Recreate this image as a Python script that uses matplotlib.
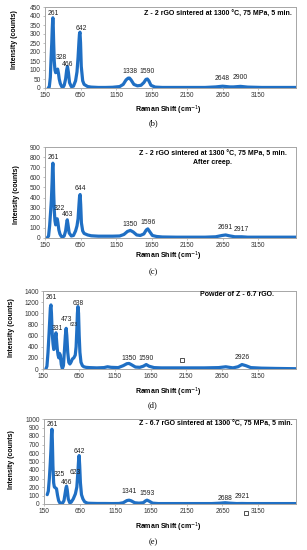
import matplotlib
matplotlib.use('Agg')
import matplotlib.pyplot as plt

plt.rcParams['font.family'] = ['Liberation Sans', 'DejaVu Sans']

BLUE = '#1f6fc4'
GREY = '#a6a6a6'
W, H = 307, 550

# ---- panel (b): Z - 2 rGO sintered
b_shift = [195, 210, 225, 235, 245, 252, 258, 261, 265, 272, 280, 290, 300, 310, 320, 328, 340,
           350, 365, 385, 405, 420, 440, 455, 466, 478, 495, 520, 550, 580, 600, 615, 628, 635,
           642, 650, 660, 680, 700, 750, 800, 900, 1000, 1100, 1200, 1250, 1290, 1320, 1338,
           1360, 1400, 1450, 1500, 1540, 1570, 1590, 1610, 1640, 1700, 1800, 2000, 2200, 2400,
           2550, 2648, 2750, 2800, 2900, 3000, 3200, 3400, 3680]
b_counts = [0, 5, 60, 160, 250, 330, 380, 390, 360, 250, 150, 100, 85, 90, 100, 105, 80,
            50, 25, 8, 5, 15, 50, 100, 120, 90, 30, 8, 10, 40, 90, 170, 260, 300,
            310, 250, 120, 40, 20, 8, 5, 3, 3, 4, 8, 20, 45, 55, 55,
            45, 20, 12, 15, 30, 48, 50, 40, 15, 5, 3, 3, 3, 3,
            6, 10, 6, 6, 9, 5, 3, 3, 3]
b_lab = ['261', '328', '466', '642', '1338', '1590', '2648', '2900']
b_lab_x = [261, 375, 466, 660, 1338, 1590, 2648, 2900]
b_lab_y = [412, 172, 130, 333, 92, 92, 52, 60]

# ---- panel (c): after creep
c_shift = [180, 200, 215, 230, 240, 250, 256, 261, 266, 272, 280, 290, 300, 310, 322, 332, 345,
           360, 380, 400, 420, 440, 455, 463, 472, 490, 520, 550, 580, 600, 615, 628, 636, 644,
           652, 662, 680, 700, 750, 800, 900, 1000, 1100, 1200, 1260, 1310, 1350, 1390, 1440,
           1490, 1540, 1575, 1596, 1620, 1660, 1720, 1800, 2000, 2200, 2400, 2550, 2640, 2691,
           2740, 2820, 2917, 3000, 3200, 3400, 3680]
c_counts = [0, 20, 120, 270, 380, 560, 700, 740, 650, 450, 280, 170, 130, 150, 190, 150, 80,
            40, 15, 10, 20, 70, 150, 180, 140, 50, 20, 25, 70, 120, 190, 330, 410, 430,
            330, 150, 70, 45, 30, 22, 18, 18, 18, 20, 35, 65, 75, 60, 30,
            25, 40, 80, 90, 65, 25, 15, 10, 8, 8, 8, 12, 25, 30,
            22, 12, 12, 8, 8, 8, 8]
c_lab = ['261', '322', '463', '644', '1350', '1596', '2691', '2917']
c_lab_x = [261, 355, 468, 644, 1350, 1596, 2691, 2917]
c_lab_y = [800, 295, 228, 490, 135, 155, 100, 88]

# ---- panel (d): powder of Z - 6.7 rGO
d_shift = [190, 205, 220, 235, 245, 253, 261, 268, 278, 290, 300, 310, 320, 331, 340, 350, 360,
           370, 380, 392, 405, 420, 435, 450, 462, 473, 482, 495, 510, 525, 540, 560, 580, 600,
           612, 622, 630, 638, 646, 655, 665, 680, 700, 720, 750, 800, 900, 1000, 1050, 1100,
           1200, 1270, 1320, 1350, 1380, 1440, 1500, 1550, 1590, 1630, 1700, 1800, 2000, 2200,
           2400, 2600, 2700, 2800, 2870, 2926, 2980, 3050, 3200, 3400, 3680]
d_counts = [0, 50, 300, 650, 900, 1100, 1150, 1000, 650, 450, 350, 380, 550, 650, 500, 350, 250,
            200, 280, 250, 80, 5, 60, 350, 600, 730, 600, 300, 120, 90, 120, 180, 200, 250,
            400, 700, 1000, 1120, 1000, 600, 300, 120, 60, 40, 30, 25, 20, 25, 40, 30,
            25, 60, 95, 100, 80, 35, 30, 50, 80, 50, 25, 20, 20, 20,
            20, 25, 40, 20, 40, 80, 60, 25, 15, 10, 5]
d_lab = ['261', '331', '473', '638', '1350', '1590', '2926']
d_lab_x = [261, 345, 473, 638, 1350, 1590, 2926]
d_lab_y = [1290, 735, 890, 1180, 190, 190, 210]
d_mark = (2089, 161)

# ---- panel (e): Z - 6.7 rGO sintered
e_shift = [195, 210, 225, 238, 248, 255, 261, 267, 275, 285, 295, 310, 325, 340, 355, 370, 390,
           410, 430, 445, 458, 466, 475, 490, 510, 530, 560, 590, 610, 625, 635, 642, 650, 660,
           675, 695, 720, 760, 800, 900, 1000, 1100, 1200, 1260, 1310, 1341, 1370, 1420, 1480,
           1540, 1575, 1593, 1620, 1670, 1750, 1900, 2100, 2300, 2500, 2620, 2688, 2750, 2850,
           2921, 3000, 3200, 3400, 3680]
e_counts = [110, 150, 300, 480, 650, 820, 880, 750, 450, 250, 200, 190, 180, 100, 40, 15, 5,
            10, 40, 120, 190, 210, 170, 60, 15, 20, 60, 120, 200, 380, 520, 570, 450, 250,
            110, 60, 25, 10, 8, 6, 6, 5, 6, 15, 40, 45, 38, 15, 10,
            15, 38, 45, 35, 10, 5, 5, 5, 5, 5, 10, 15, 10, 5,
            6, 5, 5, 5, 5]
e_lab = ['261', '325', '466', '623', '642', '1341', '1593', '2688', '2921']
e_lab_x = [261, 370, 466, 585, 642, 1341, 1593, 2688, 2921]
e_lab_y = [935, 345, 255, 365, 623, 145, 126, 67, 86]
e_mark = (2976, -110)

x_ticks = [150, 650, 1150, 1650, 2150, 2650, 3150]


def panel(fig, left, top, bottom, x, y, ymax, ystep, labs, lab_x, lab_y):
    ax = fig.add_axes([left / W, 1 - bottom / H, (296 - left) / W, (bottom - top) / H])
    ax.plot(x, y, color=BLUE, lw=2.3, solid_joinstyle='round', solid_capstyle='round')
    ax.set_xlim(150, 3680)
    ax.set_ylim(0, ymax)
    ax.set_xticks(x_ticks)
    ax.set_yticks(range(0, ymax + 1, ystep))
    for s in ax.spines.values():
        s.set_color(GREY)
        s.set_linewidth(0.7)
    ax.tick_params(labelsize=4.7, labelcolor='#333333', length=1.5, width=0.5, color=GREY,
                   pad=1.5)
    for t, tx, ty in zip(labs, lab_x, lab_y):
        ax.text(tx, ty, t, fontsize=4.9, ha='center', va='center', color='#222222')
    return ax


fig = plt.figure(figsize=(W / 100, H / 100), dpi=100)

ax = panel(fig, 45, 7, 88, b_shift, b_counts, 450, 50, b_lab, b_lab_x, b_lab_y)
ax.text(0.985, 0.91, 'Z - 2 rGO sintered at 1300 °C, 75 MPa, 5 min.', transform=ax.transAxes,
        fontsize=5, fontweight='bold', ha='right', va='center')

ax = panel(fig, 45, 147, 238, c_shift, c_counts, 900, 100, c_lab, c_lab_x, c_lab_y)
ax.text(0.668, 0.875, 'Z - 2 rGO sintered at 1300 °C, 75 MPa, 5 min.\nAfter creep.',
        transform=ax.transAxes, fontsize=5, fontweight='bold', ha='center', va='center',
        linespacing=1.3)

ax = panel(fig, 43, 291, 369, d_shift, d_counts, 1400, 200, d_lab, d_lab_x, d_lab_y)
ax.text(0.765, 0.95, 'Powder of Z - 6.7 rGO.', transform=ax.transAxes,
        fontsize=5, fontweight='bold', ha='center', va='center')
ax.plot(*d_mark, marker='s', ms=3.5, mfc='white', mec='#333333', mew=0.6, ls='none')
ax.text(575, 790, '623', fontsize=3.4, ha='center', va='center', color='#222222')

ax = panel(fig, 44, 419, 504, e_shift, e_counts, 1000, 100, e_lab, e_lab_x, e_lab_y)
ax.text(0.985, 0.94, 'Z - 6.7 rGO sintered at 1300 °C, 75 MPa, 5 min.', transform=ax.transAxes,
        fontsize=5, fontweight='bold', ha='right', va='center')
ax.plot(*e_mark, marker='s', ms=3.5, mfc='white', mec='#333333', mew=0.6, ls='none',
        clip_on=False)

# axis titles and panel letters
for ylab_x, mid, xl_y, let, let_y in [(15, 40, 110, '(b)', 123), (16, 195, 256, '(c)', 272),
                                      (12, 328, 392, '(d)', 405), (12, 460, 527, '(e)', 542)]:
    fig.text(ylab_x / W, 1 - mid / H, 'Intensity (counts)', rotation=90, fontsize=5,
             fontweight='bold', ha='center', va='center')
    fig.text(168 / W, 1 - xl_y / H, 'Raman Shift (cm$^{-1}$)', fontsize=5, fontweight='bold',
             ha='center', va='center')
    fig.text(153 / W, 1 - let_y / H, let, fontsize=6, family='Liberation Serif',
             ha='center', va='center')

fig.savefig('out.png', dpi=100)
